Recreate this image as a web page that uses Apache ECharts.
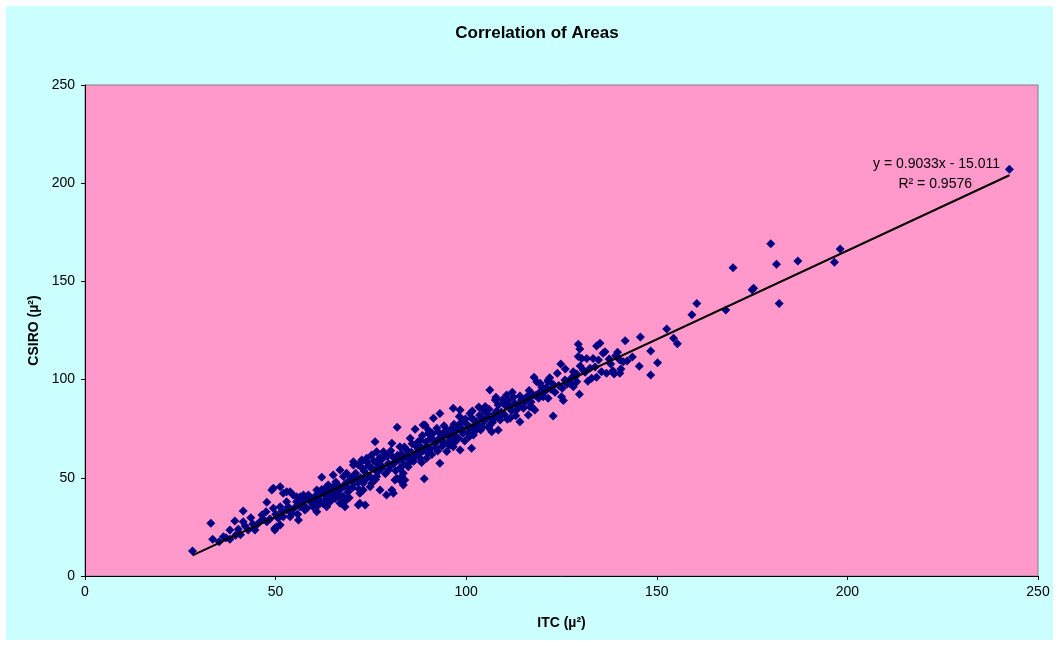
<!DOCTYPE html>
<html>
<head>
<meta charset="utf-8">
<script src="https://cdn.jsdelivr.net/npm/echarts@6/dist/echarts.min.js"></script>
<style>
html,body{margin:0;padding:0;background:#ffffff;}
#wrap{position:relative;width:1058px;height:646px;background:#ffffff;}
#bg{position:absolute;left:6px;top:6px;width:1047px;height:634px;background:#CCFFFF;}
#chart{position:absolute;left:0;top:0;width:1058px;height:646px;}
</style>
</head>
<body>
<div id="wrap"><div id="bg"></div><div id="chart"></div></div>
<script>
// ITC area (x) vs CSIRO area (y)
const areaPairs = [
[28.2,12.7],[33.0,26.8],[33.5,18.7],[35.2,17.5],[36.3,20.0],[37.0,19.5],[38.0,18.7],[38.0,23.4],[39.3,28.0],[39.5,20.8],
[40.2,23.8],[40.8,21.0],[41.5,33.1],[41.5,27.6],[42.0,25.5],[42.8,23.4],[43.5,29.7],[44.0,26.5],[44.6,23.4],[45.0,26.0],
[45.9,27.6],[46.4,31.1],[46.8,28.8],[47.5,32.7],[47.7,37.5],[47.7,27.6],[48.5,29.0],[49.0,43.8],[49.4,34.5],[49.4,44.7],
[49.8,24.3],[49.8,23.4],[50.0,31.5],[50.3,25.1],[50.7,29.4],[51.2,26.0],[51.2,45.5],[51.2,35.3],[51.6,33.0],[52.0,30.2],
[52.0,42.1],[52.9,33.6],[52.9,42.9],[52.9,37.8],[53.3,35.2],[53.8,30.2],[53.8,42.9],[54.2,32.0],[54.6,41.2],[55.0,34.8],
[55.5,37.8],[55.5,40.4],[55.8,31.5],[56.0,28.5],[56.4,40.4],[56.4,35.3],[56.8,36.9],[57.0,36.5],[57.3,41.2],[57.7,39.6],
[57.7,33.6],[58.2,34.5],[58.6,41.2],[58.9,38.4],[59.0,40.2],[59.5,37.0],[59.8,35.2],[60.3,37.0],[60.5,40.8],[60.8,43.8],
[60.8,32.7],[61.2,36.0],[61.5,42.6],[61.6,38.7],[62.0,41.9],[62.1,50.3],[62.1,44.0],[62.5,36.8],[62.8,38.3],[63.4,45.5],
[63.4,40.4],[63.4,35.3],[63.6,43.1],[63.8,46.3],[64.2,40.0],[64.3,37.8],[64.6,42.7],[64.9,45.0],[65.1,42.1],[65.1,51.4],
[65.6,39.5],[65.8,47.9],[66.0,42.1],[66.3,46.3],[66.6,40.9],[66.9,37.0],[66.9,54.0],[67.0,44.0],[67.3,37.8],[67.7,40.6],
[67.8,50.6],[68.0,45.7],[68.2,35.3],[68.3,47.0],[68.6,52.3],[68.6,38.7],[69.0,42.8],[69.1,44.7],[69.3,39.8],[69.5,48.9],
[69.8,50.1],[70.2,45.0],[70.4,58.2],[70.4,56.5],[70.4,47.2],[70.8,50.9],[71.0,52.3],[71.3,48.9],[71.5,47.6],[71.7,56.5],
[71.7,36.2],[71.9,44.2],[72.1,37.0],[72.1,57.4],[72.1,42.1],[72.3,50.0],[72.6,59.1],[72.8,54.8],[73.0,47.2],[73.0,43.8],
[73.2,53.5],[73.5,36.2],[73.7,49.2],[73.9,59.9],[73.9,58.2],[74.0,51.4],[74.4,56.1],[74.8,45.5],[74.9,55.3],[75.0,50.3],
[75.2,61.6],[75.2,47.2],[75.2,54.8],[75.7,58.6],[76.1,54.0],[76.1,68.4],[76.2,49.1],[76.5,63.3],[76.5,50.6],[76.5,57.4],
[76.8,52.9],[77.0,56.9],[77.3,60.2],[77.4,43.8],[77.8,54.8],[77.9,59.4],[78.0,55.8],[78.3,63.3],[78.6,62.1],[78.8,52.0],
[79.1,41.2],[79.3,61.0],[79.6,57.4],[79.8,54.2],[80.0,56.0],[80.2,63.8],[80.5,43.8],[80.5,67.6],[80.8,60.6],[80.9,42.1],
[81.0,57.2],[81.3,58.2],[81.3,48.9],[81.5,53.6],[81.8,49.7],[81.9,75.7],[82.0,61.5],[82.2,58.9],[82.6,65.8],[82.6,54.8],
[82.6,48.9],[82.9,59.7],[83.0,62.3],[83.1,50.6],[83.5,52.3],[83.5,46.3],[83.6,56.8],[83.8,65.7],[83.9,48.9],[84.0,60.5],
[84.3,64.4],[84.6,61.4],[84.8,55.6],[85.0,57.5],[85.3,70.1],[85.3,59.1],[85.6,63.0],[85.8,67.4],[86.2,58.4],[86.4,60.6],
[86.6,74.7],[86.9,61.7],[87.0,65.8],[87.2,68.0],[87.4,64.6],[87.9,59.9],[87.9,69.2],[87.9,62.5],[88.0,66.0],[88.3,57.8],
[88.5,71.5],[88.7,76.9],[88.8,63.9],[89.0,49.5],[89.2,76.9],[89.4,68.2],[89.6,65.8],[89.6,59.9],[89.9,62.8],[90.1,72.7],
[90.1,74.3],[90.4,69.6],[90.6,64.8],[91.0,61.9],[91.2,72.4],[91.4,80.3],[91.4,69.2],[91.8,67.3],[92.0,65.3],[92.3,75.2],
[92.5,63.6],[92.7,73.3],[92.9,70.0],[93.1,82.8],[93.1,57.4],[93.4,68.9],[93.6,70.9],[93.7,66.1],[94.0,68.4],[94.2,76.5],
[94.4,73.6],[94.9,63.4],[95.0,74.0],[95.3,67.6],[95.3,71.8],[95.6,66.4],[95.8,69.5],[96.2,75.2],[96.3,72.8],[96.6,85.4],
[96.6,65.8],[96.8,77.3],[97.0,68.1],[97.3,71.0],[97.5,74.3],[97.8,76.4],[98.0,70.2],[98.2,81.2],[98.4,84.5],[98.4,77.7],
[98.4,64.2],[98.8,73.6],[99.0,74.9],[99.2,79.4],[99.2,72.7],[99.6,68.8],[99.8,80.0],[100.3,77.0],[100.5,73.1],[100.8,70.9],
[101.0,82.8],[101.2,75.6],[101.4,80.3],[101.4,65.0],[101.6,84.0],[101.9,71.8],[102.0,79.5],[102.2,76.6],[102.4,73.9],[102.7,78.6],
[103.1,77.2],[103.3,86.0],[103.5,81.8],[103.8,74.4],[104.1,80.3],[104.2,76.0],[104.5,84.5],[104.8,78.9],[105.0,86.3],[105.4,82.8],
[105.6,80.7],[105.9,75.5],[106.0,84.9],[106.2,94.7],[106.2,76.9],[106.7,73.5],[106.9,78.1],[107.1,79.4],[107.3,82.4],[107.6,89.6],
[107.8,91.0],[108.0,84.0],[108.4,87.1],[108.4,74.3],[108.6,80.9],[108.9,79.4],[109.2,83.5],[109.5,89.8],[109.7,87.9],[110.0,82.2],
[110.3,86.8],[110.6,92.2],[110.8,79.8],[111.0,89.3],[111.5,86.2],[111.5,80.3],[111.9,84.1],[112.1,93.5],[112.4,91.0],[112.7,88.0],
[113.0,81.6],[113.2,84.5],[113.5,87.1],[113.8,86.2],[114.1,91.6],[114.1,78.6],[114.5,89.6],[115.0,85.4],[115.3,88.2],[115.9,91.3],
[116.0,90.2],[116.3,82.0],[116.5,94.5],[116.7,86.2],[117.0,88.6],[117.3,85.9],[117.6,92.2],[117.8,101.2],[118.0,84.5],[118.2,91.9],
[118.5,98.9],[119.0,90.5],[119.4,93.8],[119.4,98.1],[119.8,96.2],[120.2,91.3],[120.2,94.7],[120.6,93.8],[121.0,96.0],[121.5,98.9],
[121.5,99.8],[121.5,90.5],[121.9,101.0],[122.2,95.1],[122.8,97.6],[122.8,81.5],[123.3,93.6],[123.9,103.2],[124.3,97.0],[124.8,107.9],
[125.0,91.3],[125.2,95.6],[125.5,89.3],[125.9,99.8],[126.0,105.4],[126.5,97.8],[127.2,98.1],[127.6,100.8],[128.1,104.0],[128.1,96.4],
[128.6,101.5],[129.0,102.9],[129.0,98.9],[129.4,118.0],[129.4,111.7],[129.7,92.5],[129.8,115.6],[129.9,106.9],[130.3,110.8],[130.7,104.9],
[131.2,103.8],[131.6,110.8],[131.9,99.1],[132.5,105.8],[132.9,100.7],[133.3,110.8],[133.8,106.4],[134.2,117.1],[134.2,101.2],[134.7,110.0],
[135.1,118.5],[135.5,104.0],[135.9,113.4],[136.4,114.2],[136.8,103.2],[137.5,110.5],[137.9,107.9],[138.5,104.5],[138.8,102.9],[139.2,112.2],
[139.7,113.9],[140.3,110.0],[140.3,103.2],[140.6,105.4],[141.2,109.1],[141.7,119.8],[142.2,109.5],[143.6,111.5],[145.4,106.8],[145.7,121.7],
[148.4,114.6],[148.4,102.3],[150.2,108.6],[152.6,125.8],[154.4,121.0],[155.4,118.3],[159.2,133.0],[160.5,138.8],[168.1,135.4],[170.0,157.0],
[175.0,145.8],[175.4,146.5],[179.9,169.2],[181.4,158.7],[182.1,138.8],[187.0,160.4],[196.6,159.7],[198.1,166.5],[242.5,207.1]
];
// Linear trendline y = slope*x + intercept, as printed on the chart
const trendCoef = [0.9033, -15.011];
const trendXRange = [28.2, 242.5];
const axisTicks = [0, 50, 100, 150, 200, 250];
const trendLabels = ['y = 0.9033x - 15.011', 'R² = 0.9576'];

const trendData = trendXRange.map(x => [x, trendCoef[0] * x + trendCoef[1]]);
const FONT = "'Liberation Sans', Arial, sans-serif";

const chart = echarts.init(document.getElementById('chart'), null, {renderer: 'canvas'});
chart.setOption({
  backgroundColor: 'transparent',
  animation: false,
  title: {
    text: 'Correlation of Areas',
    left: 532, top: 20, textAlign: 'center',
    textStyle: {fontFamily: FONT, fontSize: 17, fontWeight: 'bold', color: '#000'}
  },
  grid: {
    left: 85, top: 85, width: 953, height: 491,
    show: true, backgroundColor: '#FF99CC', borderColor: '#808080', borderWidth: 1
  },
  xAxis: {
    type: 'value', min: axisTicks[0], max: axisTicks[axisTicks.length - 1], interval: 50,
    name: 'ITC (µ²)', nameLocation: 'middle', nameGap: 40,
    nameTextStyle: {fontFamily: FONT, fontSize: 14, fontWeight: 'bold', color: '#000'},
    axisLine: {show: true, onZero: false, lineStyle: {color: '#000', width: 1}},
    axisTick: {show: true, inside: false, length: 4, lineStyle: {color: '#000'}},
    axisLabel: {fontFamily: FONT, fontSize: 14, color: '#000', margin: 9},
    splitLine: {show: false}
  },
  yAxis: {
    type: 'value', min: axisTicks[0], max: axisTicks[axisTicks.length - 1], interval: 50,
    name: 'CSIRO (µ²)', nameLocation: 'middle', nameGap: 44, nameRotate: 90,
    nameTextStyle: {fontFamily: FONT, fontSize: 14, fontWeight: 'bold', color: '#000'},
    axisLine: {show: true, onZero: false, lineStyle: {color: '#000', width: 1}},
    axisTick: {show: true, inside: false, length: 4, lineStyle: {color: '#000'}},
    axisLabel: {fontFamily: FONT, fontSize: 14, color: '#000', margin: 10},
    splitLine: {show: false}
  },
  series: [
    {
      type: 'scatter', data: areaPairs, symbol: 'diamond', symbolSize: 9,
      itemStyle: {color: '#000080', opacity: 1}, z: 2
    },
    {
      type: 'line', data: trendData, symbol: 'none', silent: true,
      lineStyle: {color: '#000', width: 2}, z: 3
    }
  ],
  graphic: [
    {type: 'text', right: 58, top: 157, style: {text: trendLabels[0], font: '14px ' + FONT, fill: '#000', textAlign: 'right'}},
    {type: 'text', right: 86, top: 177, style: {text: trendLabels[1], font: '14px ' + FONT, fill: '#000', textAlign: 'right'}}
  ]
});
</script>
</body>
</html>
